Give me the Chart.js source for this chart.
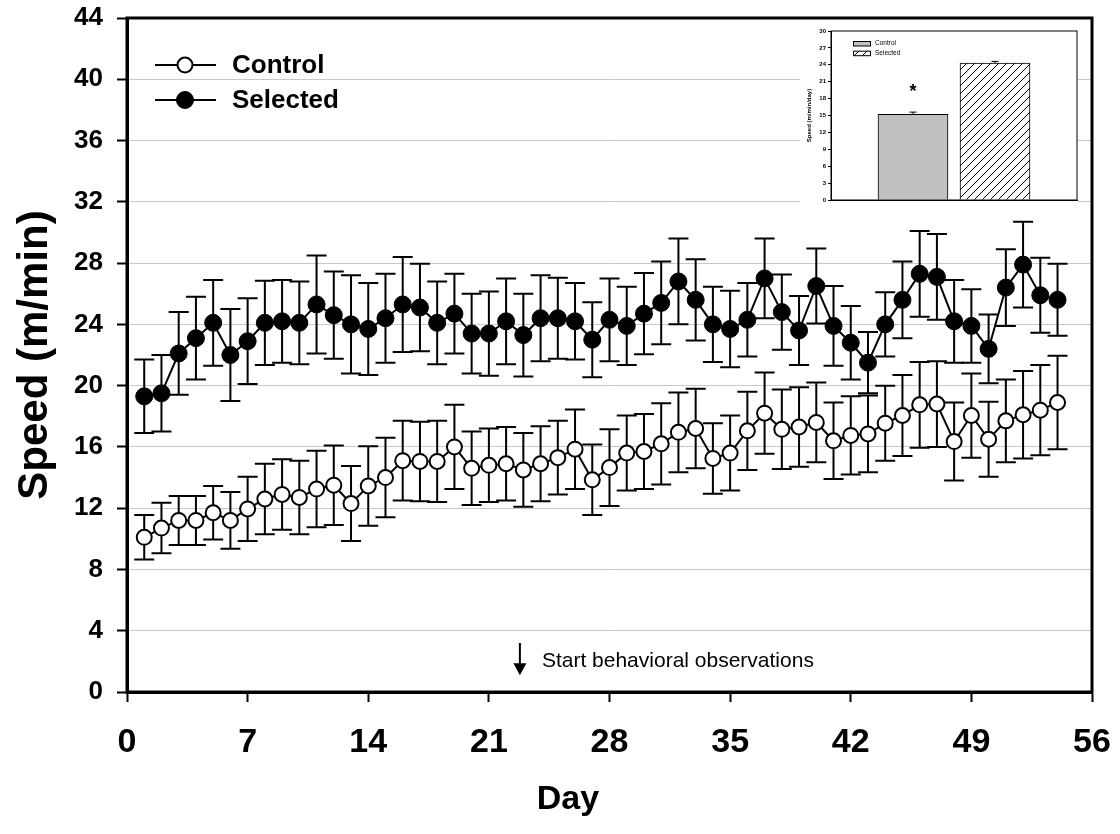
<!DOCTYPE html>
<html>
<head>
<meta charset="utf-8">
<script src="https://cdn.jsdelivr.net/npm/chart.js@4.4.1/dist/chart.umd.min.js"></script>
<style>
  html, body { margin: 0; padding: 0; background: #fff; }
  #wrap { position: relative; width: 1120px; height: 834px; }
  #main { position: absolute; left: 0; top: 0; }
  #inset { position: absolute; left: 800px; top: 22px; background: #fff; }
</style>
</head>
<body>
<div id="wrap">
  <canvas id="main" width="1120" height="834"></canvas>
  <canvas id="inset" width="278" height="182"></canvas>
</div>
<script>
const days = [1, 2, 3, 4, 5, 6, 7, 8, 9, 10, 11, 12, 13, 14, 15, 16, 17, 18,
  19, 20, 21, 22, 23, 24, 25, 26, 27, 28, 29, 30, 31, 32, 33, 34, 35, 36,
  37, 38, 39, 40, 41, 42, 43, 44, 45, 46, 47, 48, 49, 50, 51, 52, 53, 54];

const controlMean = [10.1, 10.7, 11.2, 11.2, 11.7, 11.2, 11.95, 12.6, 12.9, 12.7,
  13.25, 13.5, 12.3, 13.45, 14.0, 15.1, 15.05, 15.05, 16.0, 14.6, 14.8, 14.9,
  14.5, 14.9, 15.3, 15.85, 13.85, 14.65, 15.6, 15.7, 16.2, 16.95, 17.2, 15.25,
  15.6, 17.05, 18.2, 17.15, 17.3, 17.6, 16.4, 16.75, 16.85, 17.55, 18.05, 18.75,
  18.8, 16.35, 18.05, 16.5, 17.7, 18.1, 18.4, 18.9];
const controlErr = [1.45, 1.65, 1.6, 1.6, 1.75, 1.85, 2.1, 2.3, 2.3, 2.4,
  2.5, 2.6, 2.45, 2.6, 2.6, 2.6, 2.6, 2.65, 2.75, 2.4, 2.4, 2.4,
  2.4, 2.45, 2.4, 2.6, 2.3, 2.5, 2.45, 2.45, 2.65, 2.6, 2.6, 2.3,
  2.45, 2.55, 2.65, 2.6, 2.6, 2.6, 2.5, 2.55, 2.5, 2.45, 2.65, 2.8,
  2.8, 2.55, 2.75, 2.45, 2.7, 2.85, 2.95, 3.05];

const selectedMean = [19.3, 19.5, 22.1, 23.1, 24.1, 22.0, 22.9, 24.1, 24.2, 24.1,
  25.3, 24.6, 24.0, 23.7, 24.4, 25.3, 25.1, 24.1, 24.7, 23.4, 23.4, 24.2,
  23.3, 24.4, 24.4, 24.2, 23.0, 24.3, 23.9, 24.7, 25.4, 26.8, 25.6, 24.0,
  23.7, 24.3, 27.0, 24.8, 23.6, 26.5, 23.9, 22.8, 21.5, 24.0, 25.6, 27.3,
  27.1, 24.2, 23.9, 22.4, 26.4, 27.9, 25.9, 25.6];
const selectedErr = [2.4, 2.5, 2.7, 2.7, 2.8, 3.0, 2.8, 2.75, 2.7, 2.7,
  3.2, 2.85, 3.2, 3.0, 2.9, 3.1, 2.85, 2.7, 2.6, 2.6, 2.75, 2.8,
  2.7, 2.8, 2.65, 2.5, 2.45, 2.7, 2.55, 2.65, 2.7, 2.8, 2.65, 2.45,
  2.5, 2.4, 2.6, 2.45, 2.25, 2.45, 2.6, 2.4, 2.0, 2.1, 2.5, 2.8,
  2.8, 2.7, 2.4, 2.25, 2.5, 2.8, 2.45, 2.35];

// inset: mean speed per group
const insetGroups = ["Control", "Selected"];
const insetMean = [15.2, 24.3];
const insetErr = [0.4, 0.3];

const startDay = 22.8;   // "Start behavioral observations"

const FONT = "'Liberation Sans', Arial, Helvetica, sans-serif";
Chart.defaults.font.family = FONT;
Chart.defaults.color = "#000";

function noPad(s) {
  s.paddingTop = 0; s.paddingBottom = 0;
  s.paddingLeft = 0; s.paddingRight = 0;
}

const errorBars = {
  id: "errorBars",
  beforeDatasetsDraw(chart, args, opts) {
    const ctx = chart.ctx;
    const yScale = chart.scales.y;
    chart.data.datasets.forEach((ds, i) => {
      if (!ds.errors) return;
      const meta = chart.getDatasetMeta(i);
      ctx.save();
      ctx.strokeStyle = "#000";
      ctx.lineWidth = opts.width;
      meta.data.forEach((el, j) => {
        const raw = ds.data[j];
        const v = raw && typeof raw === "object" ? raw.y : raw;
        const e = ds.errors[j];
        if (v == null || e == null) return;
        const x = el.x;
        const top = yScale.getPixelForValue(v + e);
        const bot = yScale.getPixelForValue(v - e);
        ctx.beginPath();
        ctx.moveTo(x, top); ctx.lineTo(x, bot);
        ctx.moveTo(x - opts.cap, top); ctx.lineTo(x + opts.cap, top);
        ctx.moveTo(x - opts.cap, bot); ctx.lineTo(x + opts.cap, bot);
        ctx.stroke();
      });
      ctx.restore();
    });
  }
};

const frame = {
  id: "frame",
  afterDraw(chart, args, opts) {
    const {ctx, chartArea: a} = chart;
    ctx.save();
    ctx.strokeStyle = "#000";
    ctx.lineWidth = opts.width;
    ctx.strokeRect(a.left, a.top, a.right - a.left, a.bottom - a.top);
    ctx.restore();
  }
};

const mainLegend = {
  id: "mainLegend",
  afterDraw(chart) {
    const ctx = chart.ctx;
    ctx.save();
    chart.data.datasets.forEach((ds, i) => {
      const y = 65 + i * 35;
      ctx.strokeStyle = "#000";
      ctx.lineWidth = 2;
      ctx.beginPath();
      ctx.moveTo(155, y); ctx.lineTo(216, y);
      ctx.stroke();
      ctx.beginPath();
      ctx.arc(185, y, ds.pointRadius, 0, Math.PI * 2);
      ctx.fillStyle = ds.pointBackgroundColor;
      ctx.fill();
      ctx.lineWidth = ds.pointBorderWidth;
      ctx.stroke();
      ctx.fillStyle = "#000";
      ctx.font = "bold 26px " + FONT;
      ctx.textBaseline = "middle";
      ctx.fillText(ds.label, 232, y + 1);
    });
    ctx.restore();
  }
};

const axisTitles = {
  id: "axisTitles",
  afterDraw(chart) {
    const ctx = chart.ctx;
    const a = chart.chartArea;
    ctx.save();
    ctx.fillStyle = "#000";
    ctx.textAlign = "center";
    ctx.textBaseline = "middle";
    ctx.font = "bold 34px " + FONT;
    ctx.fillText("Day", 568, 800);
    ctx.translate(35, (a.top + a.bottom) / 2);
    ctx.rotate(-Math.PI / 2);
    ctx.font = "bold 42px " + FONT;
    ctx.fillText("Speed (m/min)", 0, 0);
    ctx.restore();
  }
};

const startNote = {
  id: "startNote",
  afterDraw(chart) {
    const ctx = chart.ctx;
    const x = chart.scales.x.getPixelForValue(startDay);
    const yTop = chart.scales.y.getPixelForValue(3.2);
    const yBot = chart.scales.y.getPixelForValue(1.1);
    ctx.save();
    ctx.strokeStyle = "#000";
    ctx.fillStyle = "#000";
    ctx.lineWidth = 2;
    ctx.beginPath();
    ctx.moveTo(x, yTop); ctx.lineTo(x, yBot - 10);
    ctx.stroke();
    ctx.beginPath();
    ctx.moveTo(x - 6.5, yBot - 12); ctx.lineTo(x + 6.5, yBot - 12); ctx.lineTo(x, yBot);
    ctx.closePath();
    ctx.fill();
    ctx.font = "21px " + FONT;
    ctx.textBaseline = "alphabetic";
    ctx.fillText("Start behavioral observations", x + 22, yTop + 24);
    ctx.restore();
  }
};

new Chart(document.getElementById("main"), {
  type: "line",
  data: {
    datasets: [
      {
        label: "Control",
        data: days.map((d, i) => ({x: d, y: controlMean[i]})),
        errors: controlErr,
        borderColor: "#000",
        borderWidth: 2,
        pointRadius: 7.5,
        pointBorderWidth: 2,
        pointBackgroundColor: "#fff",
        pointBorderColor: "#000",
        tension: 0
      },
      {
        label: "Selected",
        data: days.map((d, i) => ({x: d, y: selectedMean[i]})),
        errors: selectedErr,
        borderColor: "#000",
        borderWidth: 2,
        pointRadius: 8.5,
        pointBorderWidth: 1,
        pointBackgroundColor: "#000",
        pointBorderColor: "#000",
        tension: 0
      }
    ]
  },
  options: {
    responsive: false,
    animation: false,
    devicePixelRatio: 1,
    layout: {padding: {top: 18, right: 28, left: 0, bottom: 0}},
    plugins: {
      legend: {display: false},
      tooltip: {enabled: false},
      errorBars: {width: 2, cap: 10},
      frame: {width: 3}
    },
    scales: {
      x: {
        type: "linear",
        min: 0,
        max: 56,
        ticks: {stepSize: 7, font: {size: 34, weight: "bold"}, padding: 20, color: "#000"},
        grid: {drawOnChartArea: false, tickColor: "#000", tickLength: 10, tickWidth: 2},
        border: {color: "#000", width: 3},
        afterFit(s) { s.height = 142; noPad(s); }
      },
      y: {
        min: 0,
        max: 44,
        ticks: {stepSize: 4, font: {size: 26, weight: "bold"}, padding: 14, color: "#000"},
        grid: {color: "#c8c8c8", lineWidth: 1, tickColor: "#000", tickLength: 10, tickWidth: 2},
        border: {color: "#000", width: 3},
        afterFit(s) { s.width = 127; noPad(s); }
      }
    }
  },
  plugins: [errorBars, frame, mainLegend, axisTitles, startNote]
});

// hatch for the Selected bar
const hatchCanvas = document.createElement("canvas");
hatchCanvas.width = 8;
hatchCanvas.height = 8;
const hc = hatchCanvas.getContext("2d");
hc.fillStyle = "#fff";
hc.fillRect(0, 0, 8, 8);
hc.strokeStyle = "#000";
hc.lineWidth = 1;
hc.beginPath();
hc.moveTo(0, 8); hc.lineTo(8, 0);
hc.moveTo(-1, 1); hc.lineTo(1, -1);
hc.moveTo(7, 9); hc.lineTo(9, 7);
hc.stroke();
const hatch = hc.createPattern(hatchCanvas, "repeat");

const insetFills = ["#c0c0c0", hatch];

const insetExtras = {
  id: "insetExtras",
  afterDraw(chart) {
    const ctx = chart.ctx;
    const meta = chart.getDatasetMeta(0);
    ctx.save();
    // star over the Control bar
    const xc = meta.data[1].x;
    ctx.fillStyle = "#000";
    ctx.font = "bold 18px " + FONT;
    ctx.textAlign = "center";
    ctx.textBaseline = "alphabetic";
    ctx.fillText("*", xc, chart.scales.y.getPixelForValue(20.1) + 10.5);
    // legend
    ctx.textAlign = "left";
    ctx.textBaseline = "middle";
    ctx.font = "6.5px " + FONT;
    insetGroups.forEach((g, i) => {
      const y = 19 + i * 9.7;
      ctx.fillStyle = insetFills[i];
      ctx.fillRect(53, y, 18, 5);
      ctx.strokeStyle = "#000";
      ctx.lineWidth = 1;
      ctx.strokeRect(53.5, y + 0.5, 17, 4.5);
      ctx.fillStyle = "#000";
      ctx.fillText(g, 75, y + 2.6);
    });
    ctx.restore();
  }
};

new Chart(document.getElementById("inset"), {
  type: "bar",
  data: {
    labels: ["", ...insetGroups, ""],
    datasets: [{
      data: [null, ...insetMean, null],
      errors: [null, ...insetErr, null],
      backgroundColor: ["#fff", ...insetFills, "#fff"],
      borderColor: "#000",
      borderWidth: 1,
      barThickness: 70
    }]
  },
  options: {
    responsive: false,
    animation: false,
    devicePixelRatio: 1,
    layout: {padding: {top: 9, right: 1, left: 0, bottom: 0}},
    plugins: {
      legend: {display: false},
      tooltip: {enabled: false},
      errorBars: {width: 1, cap: 3.5},
      frame: {width: 1}
    },
    scales: {
      x: {
        offset: false,
        ticks: {display: false},
        grid: {display: false},
        border: {color: "#000", width: 1},
        afterFit(s) { s.height = 4; noPad(s); }
      },
      y: {
        min: 0,
        max: 30,
        ticks: {stepSize: 3, font: {size: 6, weight: "bold"}, padding: 2, color: "#000"},
        grid: {drawOnChartArea: false, tickColor: "#000", tickLength: 3, tickWidth: 1},
        border: {color: "#000", width: 1},
        title: {display: true, text: "Speed (m/min/day)", font: {size: 6, weight: "bold"}, padding: {top: 6, bottom: 0}},
        afterFit(s) { s.width = 31; noPad(s); }
      }
    }
  },
  plugins: [errorBars, frame, insetExtras]
});
</script>
</body>
</html>
